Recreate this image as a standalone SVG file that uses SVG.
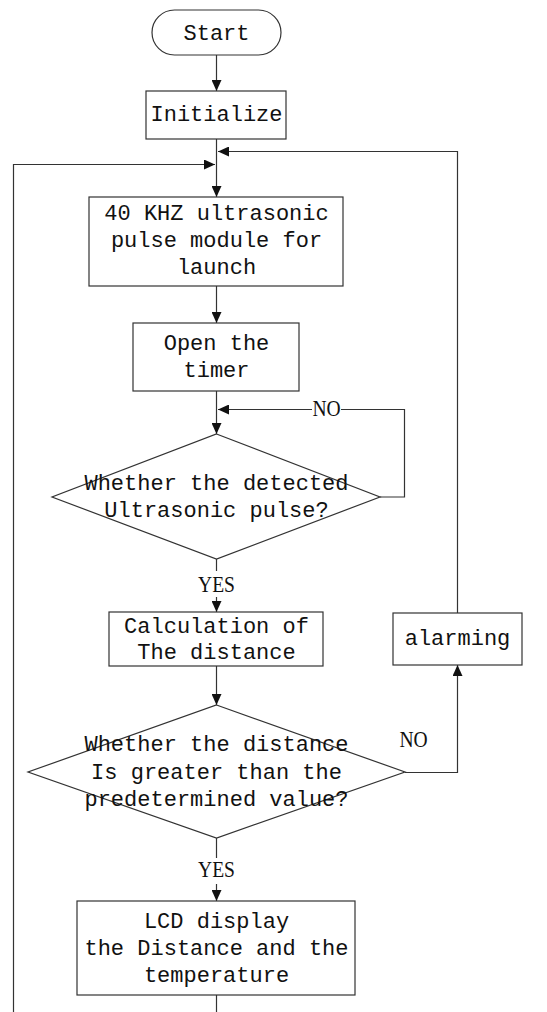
<svg xmlns="http://www.w3.org/2000/svg" width="547" height="1012" viewBox="0 0 547 1012">
  <style>
    .shape { fill: #fff; stroke: #333; stroke-width: 1.2; }
    .line { fill: none; stroke: #333; stroke-width: 1.2; }
    .t { font-family: "Liberation Mono", "DejaVu Sans Mono", monospace; font-size: 22px; fill: #111; text-anchor: middle; }
    .lbl { font-family: "Liberation Serif", "Times New Roman", serif; font-size: 23px; fill: #111; text-anchor: middle; }
  </style>
  <defs>
    <marker id="arrow" markerUnits="userSpaceOnUse" markerWidth="12" markerHeight="10" refX="11" refY="5" orient="auto">
      <path d="M0,0 L11,5 L0,10 Z" fill="#111"/>
    </marker>
  </defs>

  <!-- connectors -->
  <g id="connectors">
    <line class="line" x1="216.5" y1="55" x2="216.5" y2="91" marker-end="url(#arrow)"/>
    <line class="line" x1="216.5" y1="139" x2="216.5" y2="197" marker-end="url(#arrow)"/>
    <line class="line" x1="216.5" y1="286" x2="216.5" y2="323" marker-end="url(#arrow)"/>
    <line class="line" x1="216.5" y1="391" x2="216.5" y2="434" marker-end="url(#arrow)"/>
    <!-- NO loop back to the pulse check -->
    <polyline class="line" points="380,497 404.5,497 404.5,409.5 218,409.5" marker-end="url(#arrow)"/>
    <!-- YES to calculation -->
    <line class="line" x1="216.5" y1="559" x2="216.5" y2="571"/>
    <line class="line" x1="216.5" y1="597" x2="216.5" y2="612" marker-end="url(#arrow)"/>
    <line class="line" x1="216.5" y1="666" x2="216.5" y2="705" marker-end="url(#arrow)"/>
    <!-- NO to alarming -->
    <polyline class="line" points="405,772.5 457.5,772.5 457.5,665" marker-end="url(#arrow)"/>
    <!-- alarming back to launch -->
    <polyline class="line" points="457.5,613 457.5,151.5 218,151.5" marker-end="url(#arrow)"/>
    <!-- YES to display -->
    <line class="line" x1="216.5" y1="838" x2="216.5" y2="858"/>
    <line class="line" x1="216.5" y1="884" x2="216.5" y2="901" marker-end="url(#arrow)"/>
    <!-- display back to launch -->
    <line class="line" x1="216.5" y1="995" x2="216.5" y2="1012"/>
    <polyline class="line" points="13.5,1012 13.5,164.5 215,164.5" marker-end="url(#arrow)"/>
  </g>

  <g id="start">
    <rect class="shape" x="152" y="10" width="129" height="45" rx="22.5" ry="22.5"/>
    <text class="t" x="216.5" y="40">Start</text>
  </g>

  <g id="initialize">
    <rect class="shape" x="146" y="91" width="140" height="48"/>
    <text class="t" x="216.5" y="121">Initialize</text>
  </g>

  <g id="launch">
    <rect class="shape" x="89" y="197" width="254" height="89"/>
    <text class="t" x="216.5" y="220">40 KHZ ultrasonic</text>
    <text class="t" x="216.5" y="247">pulse module for</text>
    <text class="t" x="216.5" y="274">launch</text>
  </g>

  <g id="timer">
    <rect class="shape" x="133" y="323" width="166" height="68"/>
    <text class="t" x="216.5" y="350">Open the</text>
    <text class="t" x="216.5" y="377">timer</text>
  </g>

  <g id="detect">
    <polygon class="shape" points="216.5,434 380,497 216.5,559 52,497"/>
    <text class="t" x="216.5" y="490">Whether the detected</text>
    <text class="t" x="216.5" y="517">Ultrasonic pulse?</text>
  </g>

  <g id="detect-no">
    <rect x="312" y="399" width="29" height="20" fill="#fff"/>
    <text class="lbl" transform="translate(326.5 416) scale(0.85 1)">NO</text>
  </g>

  <g id="detect-yes">
    <text class="lbl" transform="translate(216.5 592) scale(0.85 1)">YES</text>
  </g>

  <g id="calculate">
    <rect class="shape" x="109" y="612" width="214" height="54"/>
    <text class="t" x="216.5" y="633">Calculation of</text>
    <text class="t" x="216.5" y="659">The distance</text>
  </g>

  <g id="compare">
    <polygon class="shape" points="216.5,705 405,772 216.5,838 28,772"/>
    <text class="t" x="216.5" y="751">Whether the distance</text>
    <text class="t" x="216.5" y="779">Is greater than the</text>
    <text class="t" x="216.5" y="806">predetermined value?</text>
  </g>

  <g id="compare-no">
    <text class="lbl" transform="translate(413.5 747) scale(0.85 1)">NO</text>
  </g>

  <g id="alarming">
    <rect class="shape" x="393" y="613" width="129" height="52"/>
    <text class="t" x="457.5" y="645">alarming</text>
  </g>

  <g id="compare-yes">
    <text class="lbl" transform="translate(216.5 877) scale(0.85 1)">YES</text>
  </g>

  <g id="display">
    <rect class="shape" x="77" y="901" width="278" height="94"/>
    <text class="t" x="216.5" y="928">LCD display</text>
    <text class="t" x="216.5" y="955">the Distance and the</text>
    <text class="t" x="216.5" y="982">temperature</text>
  </g>
</svg>
